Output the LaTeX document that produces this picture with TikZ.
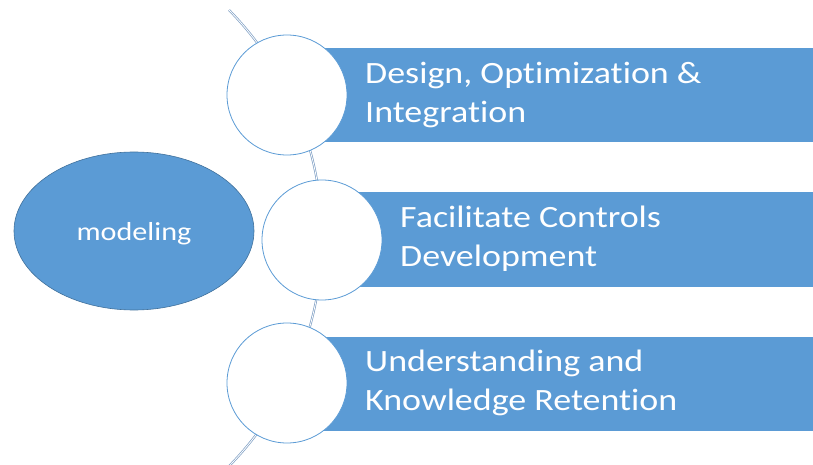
\documentclass[tikz,border=0pt]{standalone}
\usepackage{fontspec}
\setmainfont{Carlito}[FakeStretch=1.16,Ligatures=NoCommon]
\usetikzlibrary{shapes.geometric}
\definecolor{officeblue}{HTML}{5B9BD5}
\definecolor{edgeblue}{HTML}{41719C}
\definecolor{spine}{HTML}{7F9FC4}
\begin{document}
\begin{tikzpicture}[x=1pt,y=-1pt,
  band/.style={fill=officeblue,draw=none},
  bead/.style={circle,draw=officeblue,line width=0.8pt,fill=white,minimum size=120pt,inner sep=0pt},
  bandtext/.style={anchor=west,inner sep=0pt,align=left,text=white,
    font=\fontsize{31}{39}\selectfont},
  hub/.style={ellipse,fill=officeblue,draw=edgeblue,line width=0.6pt,
    minimum width=240pt,minimum height=158pt,inner sep=0pt,text=white,
    font=\fontsize{26}{34}\selectfont}]
\useasboundingbox (0,0) rectangle (813,465);
% curved spine behind the beads: arc of a circle centred at (-4,238), r=326
\draw[spine,line width=2.2pt] (229,10) arc[start angle=-44.4,end angle=44.4,radius=326];
\draw[white,line width=0.8pt] (229,10) arc[start angle=-44.4,end angle=44.4,radius=326];
% bands
\fill[band] (287,48) rectangle (813,142);
\fill[band] (322,192) rectangle (813,287);
\fill[band] (287,337) rectangle (813,431);
% beads on the spine
\node[bead] (b1) at (287,95) {};
\node[bead] (b2) at (322,240) {};
\node[bead] (b3) at (287,383) {};
% band labels
\node[bandtext] (t1) at (365,95) {Design, Optimization \&\\Integration};
\node[bandtext] (t2) at (400,239) {Facilitate Controls\\Development};
\node[bandtext] (t3) at (365,383) {Understanding and\\Knowledge Retention};
% hub
\node[hub] (hub) at (134,231) {\raisebox{-3pt}[\height][\depth]{modeling}};
\end{tikzpicture}
\end{document}
